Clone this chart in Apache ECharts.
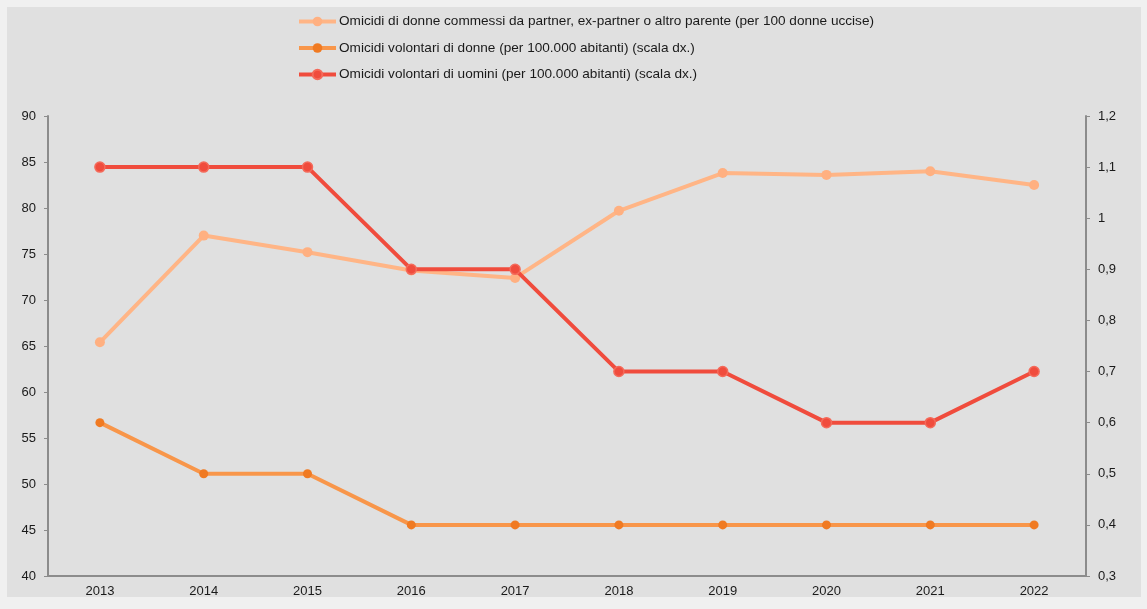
<!DOCTYPE html>
<html>
<head>
<meta charset="utf-8">
<script src="https://cdn.jsdelivr.net/npm/echarts@6/dist/echarts.min.js"></script>
<style>
  html, body { margin: 0; padding: 0; background: #f0f0f0; }
  #chart { width: 1147px; height: 609px; }
</style>
</head>
<body>
<div id="chart"></div>
<script>
var years = ['2013', '2014', '2015', '2016', '2017', '2018', '2019', '2020', '2021', '2022']
var partner = [65.4, 77.0, 75.2, 73.2, 72.4, 79.7, 83.8, 83.6, 84.0, 82.5]
var donne = [0.6, 0.5, 0.5, 0.4, 0.4, 0.4, 0.4, 0.4, 0.4, 0.4]
var uomini = [1.1, 1.1, 1.1, 0.9, 0.9, 0.7, 0.7, 0.6, 0.6, 0.7]
var names = [
    'Omicidi di donne commessi da partner, ex-partner o altro parente (per 100 donne uccise)',
    'Omicidi volontari di donne (per 100.000 abitanti) (scala dx.)',
    'Omicidi volontari di uomini (per 100.000 abitanti) (scala dx.)'
]

var font = 'Liberation Sans, Arial, sans-serif'
var axisGray = '#8c8c8c'

var myChart = echarts.init(document.getElementById('chart'))
myChart.setOption({
    animation: false,
    textStyle: { fontFamily: font },
    graphic: [{
        type: 'rect',
        z: -10,
        shape: { x: 7, y: 7, width: 1134, height: 590 },
        style: { fill: '#e0e0e0' }
    }],
    legend: {
        orient: 'vertical',
        left: 297,
        top: 14.5,
        padding: 0,
        itemWidth: 37,
        itemHeight: 12,
        itemGap: 12.5,
        lineStyle: { width: 4 },
        textStyle: { fontSize: 13.6, color: '#1a1a1a', fontFamily: font, padding: [0, 0, 0, -2] },
        data: names
    },
    grid: { left: 48, right: 61, top: 116, bottom: 33 },
    xAxis: {
        type: 'category',
        data: years,
        boundaryGap: true,
        axisLine: { lineStyle: { color: axisGray, width: 2 } },
        axisTick: { length: 4, lineStyle: { color: axisGray, width: 1.5 } },
        axisLabel: { color: '#1a1a1a', fontSize: 13, margin: 9 }
    },
    yAxis: [{
        type: 'value',
        min: 40, max: 90, interval: 5,
        axisLine: { show: true, lineStyle: { color: axisGray, width: 2 } },
        axisTick: { show: true, length: 4, lineStyle: { color: axisGray } },
        axisLabel: { color: '#1a1a1a', fontSize: 13, margin: 12 },
        splitLine: { show: false }
    }, {
        type: 'value',
        min: 0.3, max: 1.2, interval: 0.1,
        axisLine: { show: true, lineStyle: { color: axisGray, width: 2 } },
        axisTick: { show: true, length: 4, lineStyle: { color: axisGray } },
        axisLabel: {
            color: '#1a1a1a', fontSize: 13, margin: 12,
            formatter: function (v) { return String(Math.round(v * 10) / 10).replace('.', ',') }
        },
        splitLine: { show: false }
    }],
    series: [{
        name: names[0],
        type: 'line',
        data: partner,
        symbol: 'circle',
        symbolSize: 10,
        lineStyle: { color: '#ffb586', width: 4 },
        itemStyle: { color: '#ffb081' },
        z: 2
    }, {
        name: names[1],
        type: 'line',
        yAxisIndex: 1,
        data: donne,
        symbol: 'circle',
        symbolSize: 9,
        lineStyle: { color: '#f8964a', width: 4 },
        itemStyle: { color: '#f07a22' },
        z: 3
    }, {
        name: names[2],
        type: 'line',
        yAxisIndex: 1,
        data: uomini,
        symbol: 'circle',
        symbolSize: 10,
        lineStyle: { color: '#f04c3d', width: 4 },
        itemStyle: { color: '#f04c3d', borderColor: '#f46a5a', borderWidth: 1.5 },
        z: 4
    }]
})
</script>
</body>
</html>
